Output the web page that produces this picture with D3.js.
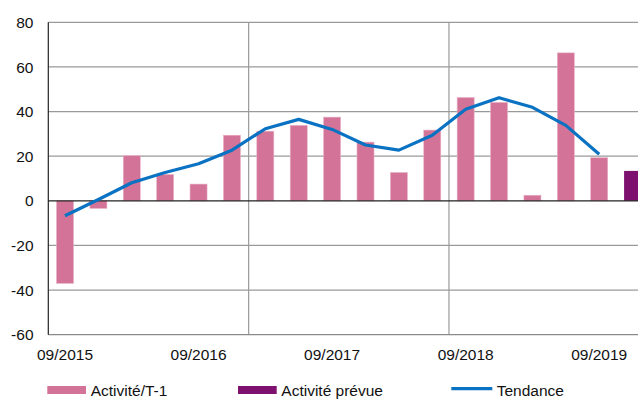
<!DOCTYPE html>
<html>
<head>
<meta charset="utf-8">
<script src="https://cdn.jsdelivr.net/npm/d3@7"></script>
<style>
  html, body { margin: 0; padding: 0; background: #fff; }
  svg { display: block; font-family: "Liberation Sans", Arial, sans-serif; }
</style>
</head>
<body>
<svg id="chart" width="638" height="399"></svg>
<script>
// Quarterly categories
const categories = [
  "09/2015", "12/2015", "03/2016", "06/2016",
  "09/2016", "12/2016", "03/2017", "06/2017",
  "09/2017", "12/2017", "03/2018", "06/2018",
  "09/2018", "12/2018", "03/2019", "06/2019",
  "09/2019", "12/2019"
];

// Activité/T-1 (observed), null where no observation
const activite = [
  -37, -3.4, 20.2, 11.8,
  7.5, 29.4, 31.2, 33.8,
  37.5, 26.3, 12.7, 31.7,
  46.3, 44.1, 2.5, 66.3,
  19.3, null
];

// Activité prévue (forecast)
const activitePrevue = [
  null, null, null, null,
  null, null, null, null,
  null, null, null, null,
  null, null, null, null,
  null, 13.4
];

// Tendance (trend line)
const tendance = [
  -6.7, 0.6, 8.1, 12.7,
  16.6, 22.7, 32.3, 36.5,
  32.0, 25.0, 22.7, 29.4,
  41.0, 46.2, 41.9, 33.8,
  20.9, null
];

const xTickLabels = ["09/2015", "09/2016", "09/2017", "09/2018", "09/2019"];
const yTicks = [-60, -40, -20, 0, 20, 40, 60, 80];

const colors = { activite: "#D37397", prevue: "#7E106F", tendance: "#0A72C2" };

const svg = d3.select("#chart");
const plot = { left: 48.3, right: 649.3, top: 22.3, bottom: 334.7 };

const x = d3.scaleBand()
  .domain(categories)
  .range([plot.left, plot.right])
  .paddingInner(0.49)
  .paddingOuter(0.245);

const y = d3.scaleLinear().domain([-60, 80]).range([plot.bottom, plot.top]);

// Horizontal gridlines
svg.append("g")
  .selectAll("line")
  .data(yTicks.filter(d => d !== 0 && d !== -60))
  .join("line")
  .attr("x1", plot.left).attr("x2", 638)
  .attr("y1", d => y(d)).attr("y2", d => y(d))
  .attr("stroke", "#9a9a9a").attr("stroke-width", 1.2);

// Vertical gridlines every six quarters
const step = x.step();
svg.append("g")
  .selectAll("line")
  .data([categories[6], categories[12]])
  .join("line")
  .attr("x1", d => x(d) - x.paddingOuter() * step)
  .attr("x2", d => x(d) - x.paddingOuter() * step)
  .attr("y1", plot.top).attr("y2", plot.bottom)
  .attr("stroke", "#9a9a9a").attr("stroke-width", 1.2);

// Bottom axis line
svg.append("line")
  .attr("x1", plot.left).attr("x2", 638)
  .attr("y1", y(-60)).attr("y2", y(-60))
  .attr("stroke", "#8a8a8a").attr("stroke-width", 1.2);

// Bars: observed activity
svg.append("g")
  .selectAll("rect")
  .data(categories.map((c, i) => ({ c, v: activite[i] })).filter(d => d.v !== null))
  .join("rect")
  .attr("x", d => x(d.c))
  .attr("width", x.bandwidth())
  .attr("y", d => y(Math.max(0, d.v)))
  .attr("height", d => Math.abs(y(d.v) - y(0)))
  .attr("fill", colors.activite)
  .attr("stroke", "#e9b3c7").attr("stroke-width", 0.6);

// Bars: forecast activity
svg.append("g")
  .selectAll("rect")
  .data(categories.map((c, i) => ({ c, v: activitePrevue[i] })).filter(d => d.v !== null))
  .join("rect")
  .attr("x", d => x(d.c))
  .attr("width", x.bandwidth())
  .attr("y", d => y(Math.max(0, d.v)))
  .attr("height", d => Math.abs(y(d.v) - y(0)))
  .attr("fill", colors.prevue);

// Zero line
svg.append("line")
  .attr("x1", plot.left).attr("x2", 638)
  .attr("y1", y(0)).attr("y2", y(0))
  .attr("stroke", "#222").attr("stroke-width", 1.2);

// Left axis line
svg.append("line")
  .attr("x1", plot.left).attr("x2", plot.left)
  .attr("y1", plot.top).attr("y2", plot.bottom)
  .attr("stroke", "#222").attr("stroke-width", 1.2);

// Trend line
const line = d3.line()
  .defined(d => d.v !== null)
  .x(d => x(d.c) + x.bandwidth() / 2)
  .y(d => y(d.v));

svg.append("path")
  .datum(categories.map((c, i) => ({ c, v: tendance[i] })))
  .attr("d", line)
  .attr("fill", "none")
  .attr("stroke", colors.tendance)
  .attr("stroke-width", 3.2)
  .attr("stroke-linejoin", "round");

// Y tick labels
svg.append("g")
  .selectAll("text")
  .data(yTicks)
  .join("text")
  .attr("x", 33.5)
  .attr("y", d => y(d))
  .attr("dy", "0.36em")
  .attr("text-anchor", "end")
  .attr("font-size", "15.5px")
  .attr("fill", "#111")
  .text(d => d);

// X tick labels
svg.append("g")
  .selectAll("text")
  .data(xTickLabels)
  .join("text")
  .attr("x", d => x(d) + x.bandwidth() / 2)
  .attr("y", 359.5)
  .attr("text-anchor", "middle")
  .attr("font-size", "15.5px")
  .attr("fill", "#111")
  .text(d => d);

// Legend
const legend = svg.append("g").attr("font-size", "15.5px").attr("fill", "#111");
legend.append("rect").attr("x", 47.3).attr("y", 386).attr("width", 38.7).attr("height", 8).attr("fill", colors.activite);
legend.append("text").attr("x", 90.7).attr("y", 395.7).text("Activité/T-1");
legend.append("rect").attr("x", 238).attr("y", 386).attr("width", 38.7).attr("height", 8).attr("fill", colors.prevue);
legend.append("text").attr("x", 281.3).attr("y", 395.7).text("Activité prévue");
legend.append("line").attr("x1", 451.3).attr("x2", 492.3).attr("y1", 388.7).attr("y2", 388.7)
  .attr("stroke", colors.tendance).attr("stroke-width", 3.2);
legend.append("text").attr("x", 496.7).attr("y", 395.7).text("Tendance");
</script>
</body>
</html>
